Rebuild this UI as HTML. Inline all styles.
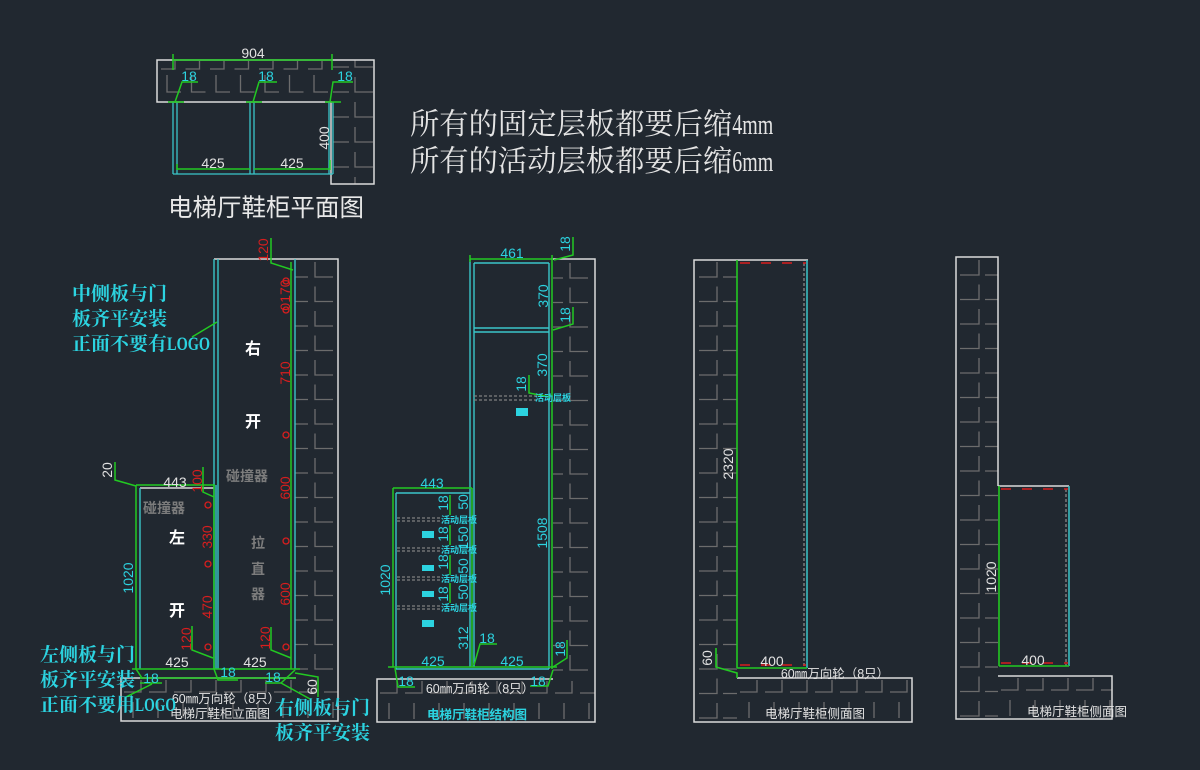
<!DOCTYPE html>
<html><head><meta charset="utf-8">
<style>
html,body{margin:0;padding:0;background:#212830;}
svg{display:block;}
.d{font-family:"Liberation Sans","Noto Sans CJK SC",sans-serif;font-size:14px;}
.w{fill:#e2e2e2;}
.c{fill:#2cd3e0;}
.r{fill:#d81e1e;}
.g{fill:#7c7c7c;}
.cn{font-family:"Liberation Sans","Noto Sans CJK SC",sans-serif;}
.cs{font-family:"Liberation Serif","Noto Serif CJK SC",serif;}
</style></head>
<body>
<svg width="1200" height="770" viewBox="0 0 1200 770" xmlns="http://www.w3.org/2000/svg">
<defs>
<pattern id="wr1" patternUnits="userSpaceOnUse" x="295" y="257" width="43" height="24.5"><path d="M0,20H13M20,5V20H38" stroke="#6c6c6c" stroke-width="1.3" fill="none"/></pattern>
<pattern id="wr2" patternUnits="userSpaceOnUse" x="550" y="258" width="45" height="24.5"><path d="M0,20H13M20,5V20H38" stroke="#6c6c6c" stroke-width="1.3" fill="none"/></pattern>
<pattern id="wrp" patternUnits="userSpaceOnUse" x="331" y="97" width="43" height="25"><path d="M2,20H18M24,5V20H42" stroke="#6c6c6c" stroke-width="1.3" fill="none"/></pattern>
<pattern id="wtp" patternUnits="userSpaceOnUse" x="157" y="60" width="24.5" height="42"><path d="M4,9H18V1M10,15V32H24" stroke="#6c6c6c" stroke-width="1.3" fill="none"/></pattern>
<pattern id="wl3" patternUnits="userSpaceOnUse" x="694" y="260" width="43" height="24.5"><path d="M5,17H23V2M29,17H43" stroke="#6c6c6c" stroke-width="1.3" fill="none"/></pattern>
<pattern id="wl4" patternUnits="userSpaceOnUse" x="956" y="257" width="42" height="24.5"><path d="M4,18H23V3M29,18H42" stroke="#6c6c6c" stroke-width="1.3" fill="none"/></pattern>
<pattern id="f1" patternUnits="userSpaceOnUse" x="121" y="678" width="25" height="44"><path d="M3,14H20V2M12,24V40" stroke="#6c6c6c" stroke-width="1.3" fill="none"/></pattern>
<pattern id="f2" patternUnits="userSpaceOnUse" x="377" y="679" width="25" height="44"><path d="M3,14H20V2M12,24V40" stroke="#6c6c6c" stroke-width="1.3" fill="none"/></pattern>
<pattern id="f3" patternUnits="userSpaceOnUse" x="737" y="678" width="25" height="44"><path d="M3,14H20V2M12,24V40" stroke="#6c6c6c" stroke-width="1.3" fill="none"/></pattern>
<pattern id="f4" patternUnits="userSpaceOnUse" x="998" y="676" width="25" height="44"><path d="M3,14H20V2M12,24V40" stroke="#6c6c6c" stroke-width="1.3" fill="none"/></pattern>
</defs>

<!-- ================= PLAN VIEW ================= -->
<rect x="157" y="60" width="174" height="42" fill="url(#wtp)"/>
<rect x="331" y="60" width="43" height="124" fill="url(#wrp)"/>
<path d="M157,60H374V184H331V102H157Z" fill="none" stroke="#dadada" stroke-width="1.5"/>
<g stroke="#3ac6c9" stroke-width="1.3" fill="none">
<path d="M173,102V174M177,102V174M250,102V174M254,102V174M329,102V174M333,102V174M173,174H333"/>
</g>
<g stroke="#22c922" stroke-width="1.5" fill="none">
<path d="M173,60H332M173,54V70M332,54V70"/>
<path d="M177,169H250M254,169H330M177,164V170M330,160V170"/>
<path d="M168,102H184M246,102H262M325,102H341"/>
<path d="M175,102L182,82H198M253,102L259,82H277M330,102L333,82H353"/>
</g>
<text class="d w" x="253" y="58" text-anchor="middle">904</text>
<text class="d c" x="189" y="81" text-anchor="middle">18</text>
<text class="d c" x="266" y="81" text-anchor="middle">18</text>
<text class="d c" x="345" y="81" text-anchor="middle">18</text>
<text class="d w" x="213" y="168" text-anchor="middle">425</text>
<text class="d w" x="292" y="168" text-anchor="middle">425</text>
<text class="d w" transform="translate(324,138) rotate(-90)" text-anchor="middle" dominant-baseline="central">400</text>
<text class="cn" x="266" y="216" text-anchor="middle" font-size="24.5" fill="#e8e8e8">电梯厅鞋柜平面图</text>

<!-- notes -->
<text class="cs" x="410" y="134" font-size="29.3" fill="#e4e4e4">所有的固定层板都要后缩<tspan textLength="41" lengthAdjust="spacingAndGlyphs" font-size="29">4mm</tspan></text>
<text class="cs" x="410" y="171" font-size="29.3" fill="#e4e4e4">所有的活动层板都要后缩<tspan textLength="41" lengthAdjust="spacingAndGlyphs" font-size="29">6mm</tspan></text>

<!-- ================= ELEVATION VIEW ================= -->
<rect x="295" y="259" width="43" height="419" fill="url(#wr1)"/>
<rect x="121" y="678" width="217" height="43" fill="url(#f1)"/>
<path d="M214,259H338V721H121V678H296" fill="none" stroke="#dadada" stroke-width="1.5"/>
<path d="M140,488H214" stroke="#dadada" stroke-width="1.5"/>
<g stroke="#3ac6c9" stroke-width="1.4" fill="none">
<path d="M214,259V669M218,259V669M295,259V669M140,488V669M216,485V669"/>
</g>
<g stroke="#22c922" stroke-width="1.5" fill="none">
<path d="M291,262V669"/>
<path d="M136,485H215M136,485V669M214,485V669"/>
<path d="M132,669H300M140,678H296"/>
<path d="M271,238V263L293,270"/>
<path d="M271,627V650L291,658"/>
<path d="M203,467V492L214,497"/>
<path d="M192,626V650L213,658"/>
<path d="M115,462V480L136,486"/>
<path d="M217,322L192,337"/>
<path d="M140,683H162M152,684L126,697"/>
<path d="M136,669L142,678M214,669L218,680H238"/>
<path d="M265,683H281L295,670M281,683L310,699M295,673L318,677V697"/>
</g>
<g stroke="#d81e1e" stroke-width="1.3" fill="none">
<circle cx="286" cy="281" r="3"/><circle cx="286" cy="310" r="3"/><circle cx="286" cy="435" r="3"/><circle cx="286" cy="541" r="3"/><circle cx="286" cy="647" r="3"/>
<circle cx="208" cy="505" r="3"/><circle cx="208" cy="564" r="3"/><circle cx="208" cy="647" r="3"/>
</g>
<g class="d r" text-anchor="middle" dominant-baseline="central">
<text transform="translate(263,250) rotate(-90)">120</text>
<text transform="translate(285,295) rotate(-90)">0170</text>
<text transform="translate(285,373) rotate(-90)">710</text>
<text transform="translate(285,488) rotate(-90)">600</text>
<text transform="translate(285,594) rotate(-90)">600</text>
<text transform="translate(265,638) rotate(-90)">120</text>
<text transform="translate(197,481) rotate(-90)">100</text>
<text transform="translate(207,537) rotate(-90)">330</text>
<text transform="translate(207,607) rotate(-90)">470</text>
<text transform="translate(186,639) rotate(-90)">120</text>
</g>
<g class="cn g" font-size="14" font-weight="bold" text-anchor="middle">
<text x="247" y="481">碰撞器</text>
<text x="164" y="513">碰撞器</text>
<text x="258" y="548">拉</text>
<text x="258" y="574">直</text>
<text x="258" y="599">器</text>
</g>
<g class="cn" font-size="16" font-weight="bold" fill="#ffffff" text-anchor="middle">
<text x="253" y="354">右</text>
<text x="253" y="427">开</text>
<text x="177" y="543">左</text>
<text x="177" y="616">开</text>
</g>
<text class="d w" x="175" y="487" text-anchor="middle">443</text>
<text class="d w" transform="translate(107,470) rotate(-90)" text-anchor="middle" dominant-baseline="central">20</text>
<text class="d c" transform="translate(128,578) rotate(-90)" text-anchor="middle" dominant-baseline="central">1020</text>
<text class="d w" x="177" y="667" text-anchor="middle">425</text>
<text class="d w" x="255" y="667" text-anchor="middle">425</text>
<text class="d c" x="151" y="683" text-anchor="middle">18</text>
<text class="d c" x="228" y="677" text-anchor="middle">18</text>
<text class="d c" x="273" y="682" text-anchor="middle">18</text>
<text class="d w" transform="translate(312,687) rotate(-90)" text-anchor="middle" dominant-baseline="central">60</text>
<text class="cn w" x="226" y="703" text-anchor="middle" font-size="12.5">60㎜万向轮（8只）</text>
<text class="cn w" x="220" y="718" text-anchor="middle" font-size="12.5">电梯厅鞋柜立面图</text>

<g class="cs" font-size="19" font-weight="bold" fill="#2cd3e0">
<text x="72" y="300">中侧板与门</text>
<text x="72" y="325">板齐平安装</text>
<text x="72" y="350">正面不要有<tspan textLength="43" lengthAdjust="spacingAndGlyphs">LOGO</tspan></text>
<text x="40" y="661">左侧板与门</text>
<text x="40" y="686">板齐平安装</text>
<text x="40" y="711">正面不要用<tspan textLength="41" lengthAdjust="spacingAndGlyphs">LOGO</tspan></text>
<text x="275" y="714">右侧板与门</text>
<text x="275" y="739">板齐平安装</text>
</g>

<!-- ================= STRUCTURE VIEW ================= -->
<rect x="553" y="259" width="42" height="420" fill="url(#wr2)"/>
<rect x="377" y="679" width="218" height="43" fill="url(#f2)"/>
<path d="M553,259H595V722H377V679H553" fill="none" stroke="#dadada" stroke-width="1.5"/>
<g stroke="#3ac6c9" stroke-width="1.4" fill="none">
<path d="M470,259V667M474,263V667M549,263V669M474,263H549M474,328H549M474,332H549"/>
<path d="M396,493V669M396,493H470M396,669H549"/>
</g>
<g stroke="#22c922" stroke-width="1.5" fill="none">
<path d="M470,259H553M552,255V669M470,255V262"/>
<path d="M393,488H472M393,488V667M472,488V667M388,667H557"/>
<path d="M573,237V255L554,260M573,307V324L553,330M529,375V393L550,397"/>
<path d="M474,665L480,644H497M395,668L398,687H415M530,686H548L553,670M567,640V658L553,667"/>
<path d="M450,495V515M450,525V545M450,555V575M450,583V603"/>
</g>
<g stroke="#808080" stroke-width="1.2" stroke-dasharray="3,2" fill="none">
<path d="M474,396H537M474,400H537"/>
<path d="M397,518H442M397,521H442M397,548H442M397,551H442M397,577H442M397,580H442M397,606H442M397,609H442"/>
</g>
<text class="d c" x="512" y="258" text-anchor="middle">461</text>
<g class="d c" text-anchor="middle" dominant-baseline="central">
<text transform="translate(565,244) rotate(-90)">18</text>
<text transform="translate(543,296) rotate(-90)">370</text>
<text transform="translate(565,315) rotate(-90)">18</text>
<text transform="translate(542,365) rotate(-90)">370</text>
<text transform="translate(521,384) rotate(-90)">18</text>
<text transform="translate(542,533) rotate(-90)">1508</text>
<text transform="translate(385,580) rotate(-90)">1020</text>
<text transform="translate(443,503) rotate(-90)">18</text>
<text transform="translate(443,534) rotate(-90)">18</text>
<text transform="translate(443,562) rotate(-90)">18</text>
<text transform="translate(443,594) rotate(-90)">18</text>
<text transform="translate(463,502) rotate(-90)">50</text>
<text transform="translate(463,538) rotate(-90)">150</text>
<text transform="translate(463,566) rotate(-90)">50</text>
<text transform="translate(463,592) rotate(-90)">50</text>
<text transform="translate(463,638) rotate(-90)">312</text>
<text transform="translate(560,649) rotate(-90)">18</text>
</g>
<g class="cn c" font-size="9" font-weight="bold">
<text x="535" y="401">活动层板</text>
<text x="441" y="523">活动层板</text>
<text x="441" y="553">活动层板</text>
<text x="441" y="582">活动层板</text>
<text x="441" y="611">活动层板</text>
</g>
<g fill="#2cd3e0">
<rect x="516" y="408" width="12" height="8"/>
<rect x="422" y="531" width="12" height="7"/>
<rect x="422" y="565" width="12" height="6"/>
<rect x="422" y="591" width="12" height="6"/>
<rect x="422" y="620" width="12" height="7"/>
</g>
<text class="d c" x="432" y="488" text-anchor="middle">443</text>
<text class="d c" x="487" y="643" text-anchor="middle">18</text>
<text class="d c" x="433" y="666" text-anchor="middle">425</text>
<text class="d c" x="512" y="666" text-anchor="middle">425</text>
<text class="d c" x="406" y="686" text-anchor="middle">18</text>
<text class="d c" x="538" y="686" text-anchor="middle">18</text>
<text class="cn w" x="480" y="693" text-anchor="middle" font-size="12.5">60㎜万向轮（8只）</text>
<text class="cn c" x="477" y="719" text-anchor="middle" font-size="12.5" font-weight="bold">电梯厅鞋柜结构图</text>

<!-- ================= SIDE VIEW 1 ================= -->
<rect x="694" y="260" width="43" height="462" fill="url(#wl3)"/>
<rect x="737" y="678" width="175" height="44" fill="url(#f3)"/>
<path d="M808,260H694V722H912V678H737" fill="none" stroke="#dadada" stroke-width="1.5"/>
<path d="M804,263V668" stroke="#888" stroke-width="1.3" stroke-dasharray="3,2"/>
<path d="M807,260V668" stroke="#3ac6c9" stroke-width="1.5"/>
<g stroke="#22c922" stroke-width="1.6" fill="none">
<path d="M737,260V668M737,668H807"/>
<path d="M716,648V667L737,673V678"/>
</g>
<g stroke="#d81e1e" stroke-width="1.6" stroke-dasharray="10,11" fill="none">
<path d="M740,263H806M740,665H806"/>
</g>
<text class="d w" transform="translate(728,464) rotate(-90)" text-anchor="middle" dominant-baseline="central">2320</text>
<text class="d w" x="772" y="666" text-anchor="middle">400</text>
<text class="d w" transform="translate(707,658) rotate(-90)" text-anchor="middle" dominant-baseline="central">60</text>
<text class="cn w" x="835" y="678" text-anchor="middle" font-size="12.5">60㎜万向轮（8只）</text>
<text class="cn w" x="815" y="718" text-anchor="middle" font-size="12.5">电梯厅鞋柜侧面图</text>

<!-- ================= SIDE VIEW 2 ================= -->
<rect x="956" y="257" width="42" height="462" fill="url(#wl4)"/>
<rect x="998" y="676" width="114" height="43" fill="url(#f4)"/>
<path d="M998,486V257H956V719H1112V676H998M998,486H1069" fill="none" stroke="#dadada" stroke-width="1.5"/>
<path d="M1066,489V666" stroke="#888" stroke-width="1.3" stroke-dasharray="3,2"/>
<path d="M1069,486V666" stroke="#3ac6c9" stroke-width="1.5"/>
<g stroke="#22c922" stroke-width="1.6" fill="none">
<path d="M999,486V666M999,666H1069"/>
</g>
<g stroke="#d81e1e" stroke-width="1.6" stroke-dasharray="10,11" fill="none">
<path d="M1001,489H1068M1001,663H1068"/>
</g>
<text class="d w" transform="translate(991,577) rotate(-90)" text-anchor="middle" dominant-baseline="central">1020</text>
<text class="d w" x="1033" y="665" text-anchor="middle">400</text>
<text class="cn w" x="1077" y="716" text-anchor="middle" font-size="12.5">电梯厅鞋柜侧面图</text>
</svg>
</body></html>
